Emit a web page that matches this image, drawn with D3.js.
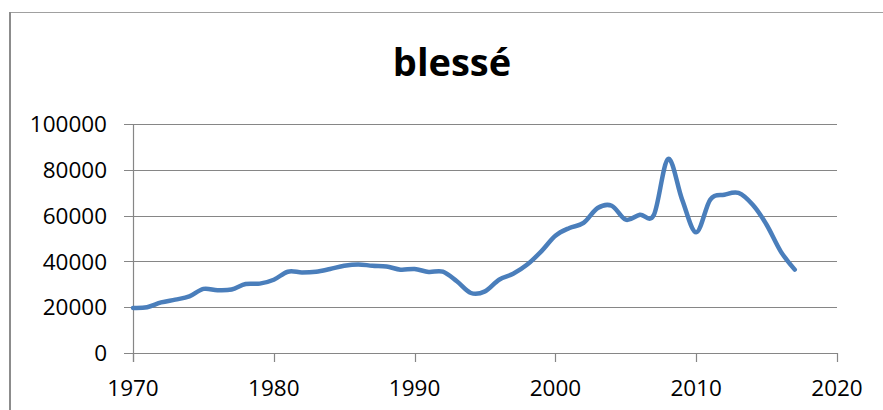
<!DOCTYPE html>
<html>
<head>
<meta charset="utf-8">
<script src="https://cdn.jsdelivr.net/npm/d3@7"></script>
<style>
  html, body { margin: 0; background: #fff; overflow: hidden; }
  svg { display: block; }
</style>
</head>
<body>
<div id="viz"></div>
<script>
// chart data
var years = [1970, 1971, 1972, 1973, 1974, 1975, 1976, 1977, 1978, 1979,
  1980, 1981, 1982, 1983, 1984, 1985, 1986, 1987, 1988, 1989,
  1990, 1991, 1992, 1993, 1994, 1995, 1996, 1997, 1998, 1999,
  2000, 2001, 2002, 2003, 2004, 2005, 2006, 2007, 2008, 2009,
  2010, 2011, 2012, 2013, 2014, 2015, 2016, 2017];
var blesse = [19700, 20000, 22100, 23300, 24700, 28000, 27400, 27700, 30100, 30300,
  32000, 35500, 35200, 35500, 36700, 38100, 38700, 38100, 37800, 36400,
  36700, 35400, 35500, 31300, 26200, 26900, 32000, 34600, 38600, 44400,
  51200, 54600, 56800, 63300, 64300, 58200, 60400, 60400, 84700, 67000,
  52700, 67000, 69100, 69900, 64800, 56000, 44400, 36400];
var yTicks = [0, 20000, 40000, 60000, 80000, 100000];
var xTicks = [1970, 1980, 1990, 2000, 2010, 2020];
var title = "blessé";

var width = 883;
var height = 410;
var margin = { t: 124, l: 133, b: 57, r: 46 };

var svg = d3.select('#viz').append('svg')
  .attr('width', width)
  .attr('height', height);

// chart frame: only top and left edges are inside the picture
svg.append('line')
  .attr('x1', 10).attr('x2', width)
  .attr('y1', 12.5).attr('y2', 12.5)
  .attr('stroke', '#a0a0a0')
  .attr('stroke-width', 1.2);
svg.append('line')
  .attr('x1', 10).attr('x2', 10)
  .attr('y1', 12).attr('y2', height)
  .attr('stroke', '#8c8c8c')
  .attr('stroke-width', 2);

var x = d3.scaleLinear()
  .domain([1970, 2020])
  .range([margin.l, width - margin.r]);
var y = d3.scaleLinear()
  .domain([0, 100000])
  .range([height - margin.b, margin.t]);

var g = svg.append('g');

// gridlines
g.selectAll('.grid')
  .data(yTicks)
  .enter().append('line')
  .attr('class', 'grid')
  .attr('x1', margin.l - 9)
  .attr('x2', x(2020))
  .attr('y1', d => Math.round(y(d)) + 0.5)
  .attr('y2', d => Math.round(y(d)) + 0.5)
  .attr('stroke', '#868686')
  .attr('stroke-width', 1.2);

// y axis line
g.append('line')
  .attr('x1', margin.l + 0.5).attr('x2', margin.l + 0.5)
  .attr('y1', y(100000)).attr('y2', y(0) + 9)
  .attr('stroke', '#868686')
  .attr('stroke-width', 1.2);

// x ticks
g.selectAll('.xtick')
  .data(xTicks)
  .enter().append('line')
  .attr('class', 'xtick')
  .attr('x1', d => Math.round(x(d)) + 0.5)
  .attr('x2', d => Math.round(x(d)) + 0.5)
  .attr('y1', y(0))
  .attr('y2', y(0) + 9)
  .attr('stroke', '#868686')
  .attr('stroke-width', 1.2);

// y labels
g.selectAll('.ylab')
  .data(yTicks)
  .enter().append('text')
  .attr('class', 'ylab')
  .attr('x', 107)
  .attr('y', d => y(d))
  .attr('dy', '0.36em')
  .attr('text-anchor', 'end')
  .style('font-family', '"Open Sans", sans-serif')
  .style('font-size', '22.5px')
  .style('fill', '#000')
  .text(d => d);

// x labels
g.selectAll('.xlab')
  .data(xTicks)
  .enter().append('text')
  .attr('class', 'xlab')
  .attr('x', d => x(d))
  .attr('y', 396)
  .attr('text-anchor', 'middle')
  .style('font-family', '"Open Sans", sans-serif')
  .style('font-size', '22.5px')
  .style('fill', '#000')
  .text(d => d);

// title
svg.append('text')
  .attr('x', 452)
  .attr('y', 76)
  .attr('text-anchor', 'middle')
  .style('font-family', '"Open Sans", sans-serif')
  .style('font-weight', 'bold')
  .style('font-size', '38px')
  .style('fill', '#000')
  .text(title);

// smoothed line
var line = d3.line()
  .x((d, i) => x(years[i]))
  .y(d => y(d))
  .curve(d3.curveCardinal.tension(0));

g.append('path')
  .datum(blesse)
  .attr('d', line)
  .attr('fill', 'none')
  .attr('stroke', '#4a7ebb')
  .attr('stroke-width', 4.5)
  .attr('stroke-linecap', 'round')
  .attr('stroke-linejoin', 'round');
</script>
</body>
</html>
